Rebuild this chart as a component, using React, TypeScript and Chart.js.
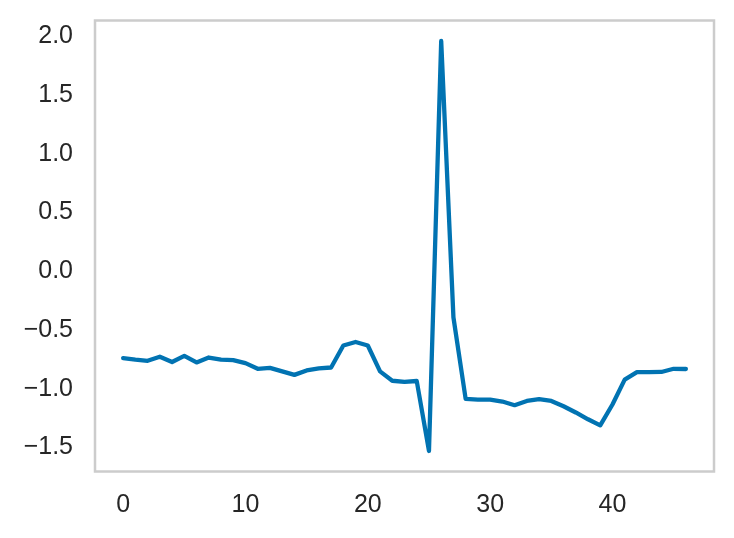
import React, { useEffect, useRef } from "react";
import { Chart, registerables } from "chart.js";

Chart.register(...registerables);

const xValues: number[] = Array.from({ length: 47 }, (_, i) => i);
const seriesValues: number[] = [
  -0.757, -0.77, -0.78, -0.745, -0.79, -0.738, -0.794, -0.752, -0.77, -0.775,
  -0.8, -0.848, -0.84, -0.87, -0.9, -0.862, -0.845, -0.837, -0.65, -0.62,
  -0.65, -0.87, -0.95, -0.96, -0.952, -1.548, 1.943, -0.41, -1.105, -1.11,
  -1.11, -1.127, -1.158, -1.122, -1.107, -1.122, -1.167, -1.22, -1.278, -1.33,
  -1.152, -0.94, -0.877, -0.877, -0.875, -0.848, -0.85,
];
const xTicks: number[] = [0, 10, 20, 30, 40];
const yTicks: number[] = [-1.5, -1.0, -0.5, 0.0, 0.5, 1.0, 1.5, 2.0];

const frame = {
  id: "frame",
  afterDraw(chart: any) {
    const { ctx, chartArea } = chart;
    ctx.save();
    ctx.strokeStyle = "#cccccc";
    ctx.lineWidth = 2.5;
    ctx.strokeRect(chartArea.left, chartArea.top, chartArea.right - chartArea.left, chartArea.bottom - chartArea.top);
    ctx.restore();
  },
};

export default function App() {
  const ref = useRef<HTMLCanvasElement | null>(null);
  useEffect(() => {
    document.body.style.margin = "0";
    const chart = new Chart(ref.current as HTMLCanvasElement, {
      type: "line",
      data: {
        datasets: [
          {
            data: xValues.map((x, i) => ({ x, y: seriesValues[i] })),
            borderColor: "#0173b2",
            borderWidth: 4.3,
            pointRadius: 0,
            tension: 0,
            fill: false,
            borderCapStyle: "round",
            borderJoinStyle: "round",
          },
        ],
      },
      options: {
        animation: false,
        responsive: false,
        maintainAspectRatio: false,
        layout: { padding: { left: 0, right: 20, top: 20.5, bottom: 0 } },
        plugins: { legend: { display: false }, tooltip: { enabled: false } },
        scales: {
          x: {
            type: "linear",
            min: -2.3,
            max: 48.3,
            grid: { display: false, drawTicks: false },
            border: { display: false },
            afterBuildTicks: (s: any) => {
              s.ticks = xTicks.map((v) => ({ value: v }));
            },
            afterFit: (s: any) => {
              s.height = 66.5;
              s.paddingLeft = 0;
              s.paddingRight = 0;
            },
            ticks: {
              color: "#262626",
              font: { family: "Liberation Sans, Arial", size: 25 },
              padding: 19,
              maxRotation: 0,
              callback: (v: any) => String(v),
            },
          },
          y: {
            type: "linear",
            min: -1.7226,
            max: 2.1176,
            grid: { display: false, drawTicks: false },
            border: { display: false },
            afterBuildTicks: (s: any) => {
              s.ticks = yTicks.map((v) => ({ value: v }));
            },
            afterFit: (s: any) => {
              s.width = 95;
              s.paddingTop = 0;
              s.paddingBottom = 0;
            },
            ticks: {
              color: "#262626",
              font: { family: "Liberation Sans, Arial", size: 25 },
              padding: 22,
              labelOffset: 2,
              callback: (v: any) => Number(v).toFixed(1).replace("-", "\u2212"),
            },
          },
        },
      },
      plugins: [frame],
    });
    return () => chart.destroy();
  }, []);
  return (
    <div style={{ width: 734, height: 538, background: "#fff" }}>
      <canvas ref={ref} width={734} height={538} style={{ width: 734, height: 538, display: "block" }} />
    </div>
  );
}
